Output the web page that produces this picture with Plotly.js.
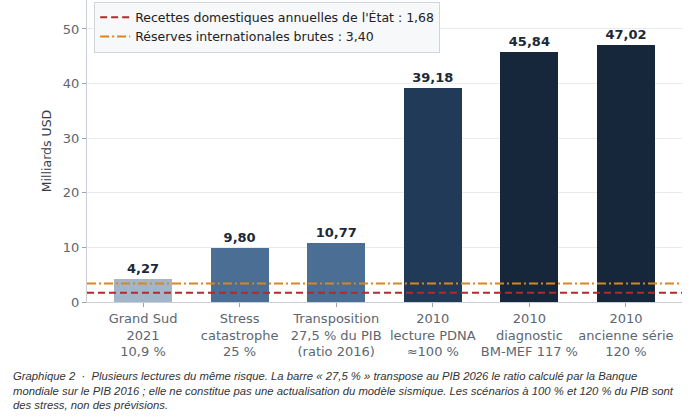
<!DOCTYPE html>
<html>
<head>
<meta charset="utf-8">
<script src="https://cdn.plot.ly/plotly-3.0.1.min.js"></script>
<style>
  html, body { margin: 0; padding: 0; background: #ffffff; }
  #chart { width: 700px; height: 420px; }
</style>
</head>
<body>
<div id="chart"></div>
<script>
var categories = [
    "Grand Sud<br>2021<br>10,9 %",
    "Stress<br>catastrophe<br>25 %",
    "Transposition<br>27,5 % du PIB<br>(ratio 2016)",
    "2010<br>lecture PDNA<br>≈100 %",
    "2010<br>diagnostic<br>BM-MEF 117 %",
    "2010<br>ancienne série<br>120 %"
];
var values = [4.27, 9.80, 10.77, 39.18, 45.84, 47.02];
var barColors = ["#a3b6c9", "#4b6f94", "#4b6f94", "#213a58", "#16273c", "#16273c"];

var recettes = 1.68;
var reserves = 3.40;
var recettesLabel = "Recettes domestiques annuelles de l'État : 1,68";
var reservesLabel = "Réserves internationales brutes : 3,40";

var caption = "Graphique 2  ·  Plusieurs lectures du même risque. La barre « 27,5 % » transpose au PIB 2026 le ratio calculé par la Banque<br>" +
              "mondiale sur le PIB 2016 ; elle ne constitue pas une actualisation du modèle sismique. Les scénarios à 100 % et 120 % du PIB sont<br>" +
              "des stress, non des prévisions.";

function fmt(v)
{
    return v.toFixed(2).replace(".", ",");
}

var xs = [];
for (let i = 0; i < categories.length; i++) xs.push(i);

var bars = {
    type: 'bar',
    x: xs,
    y: values,
    width: 0.6,
    marker: {color: barColors},
    text: values.map(fmt),
    textposition: 'outside',
    cliponaxis: false,
    textfont: {family: 'DejaVu Sans', size: 13, color: '#1b2838', weight: 'bold'},
    showlegend: false,
    hoverinfo: 'skip'
};

var lineRecettes = {
    type: 'scatter',
    mode: 'lines',
    x: [-0.58, 5.58],
    y: [recettes, recettes],
    name: recettesLabel,
    line: {color: '#b22a2a', width: 2, dash: '7px,4px'}
};

var lineReserves = {
    type: 'scatter',
    mode: 'lines',
    x: [-0.58, 5.58],
    y: [reserves, reserves],
    name: reservesLabel,
    line: {color: '#d9861c', width: 2, dash: '9px,3px,2px,3px'}
};

var layout = {
    width: 700,
    height: 420,
    margin: {l: 87, r: 18, t: 0, b: 118},
    paper_bgcolor: '#ffffff',
    plot_bgcolor: '#ffffff',
    font: {family: 'DejaVu Sans', size: 13, color: '#555f69'},
    bargap: 0,
    xaxis: {
        range: [-0.58, 5.58],
        tickmode: 'array',
        tickvals: xs,
        ticktext: categories,
        tickangle: 0,
        ticks: 'outside',
        ticklen: 4,
        tickcolor: '#9aa3ab',
        showline: true,
        linecolor: '#c8ced4',
        showgrid: false,
        zeroline: false,
        tickfont: {size: 13, color: '#5d6670'}
    },
    yaxis: {
        range: [0, 55.3],
        tickvals: [0, 10, 20, 30, 40, 50],
        ticks: 'outside',
        ticklen: 4,
        tickcolor: '#9aa3ab',
        showline: true,
        linecolor: '#c8ced4',
        gridcolor: '#e8ebee',
        zeroline: false,
        tickfont: {size: 13, color: '#5d6670'},
        title: {text: 'Milliards USD', font: {size: 12.5, color: '#333c46'}, standoff: 8}
    },
    legend: {
        x: 0.012,
        y: 0.995,
        xanchor: 'left',
        yanchor: 'top',
        bgcolor: '#f6f8fa',
        bordercolor: '#cfd5db',
        borderwidth: 1,
        font: {size: 12.5, color: '#222222'},
        tracegroupgap: 0,
        itemwidth: 30
    },
    annotations: [{
        xref: 'paper', yref: 'paper',
        x: -0.128, y: -0.22,
        xanchor: 'left', yanchor: 'top',
        align: 'left',
        showarrow: false,
        text: caption,
        font: {family: 'Liberation Sans', size: 11.3, color: '#333333', style: 'italic'}
    }]
};

Plotly.newPlot('chart', [bars, lineRecettes, lineReserves], layout, {staticPlot: true});
</script>
</body>
</html>
